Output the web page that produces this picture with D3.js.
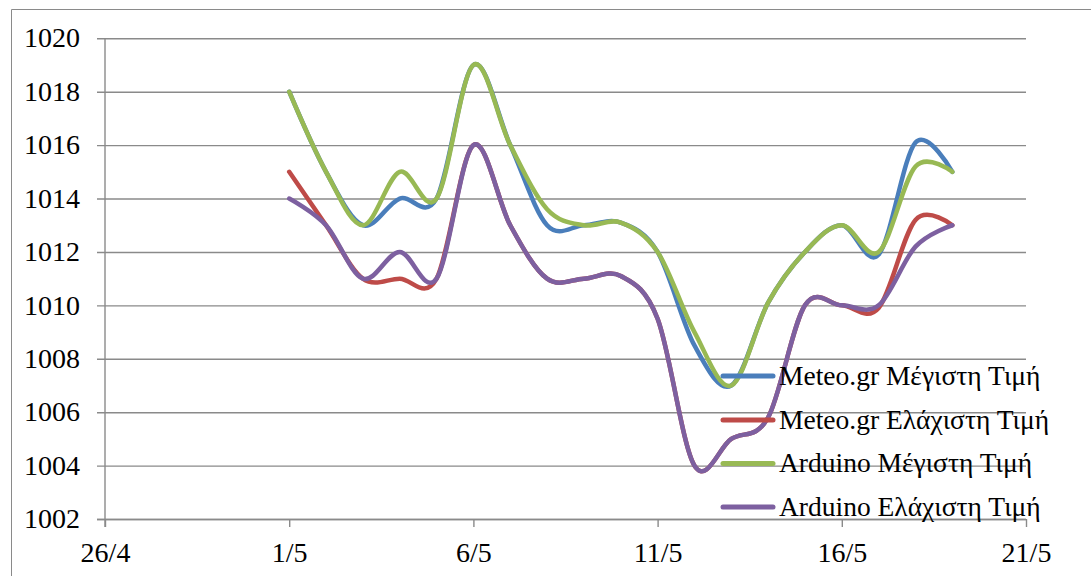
<!DOCTYPE html>
<html>
<head>
<meta charset="utf-8">
<script src="https://cdn.jsdelivr.net/npm/d3@7"></script>
<style>
  html, body { margin: 0; padding: 0; background: #fff; }
  svg { display: block; }
  text { font-family: "Liberation Serif", "DejaVu Serif", serif; fill: #000; }
</style>
</head>
<body>
<svg id="chart" width="1091" height="576"></svg>
<script>
// ---- data ----
const days = ["2014-05-01","2014-05-02","2014-05-03","2014-05-04","2014-05-05","2014-05-06","2014-05-07",
  "2014-05-08","2014-05-09","2014-05-10","2014-05-11","2014-05-12","2014-05-13","2014-05-14",
  "2014-05-15","2014-05-16","2014-05-17","2014-05-18","2014-05-19"];
const meteoMax   = [1018, 1015, 1013, 1014, 1014, 1019, 1016, 1013, 1013, 1013.1, 1012, 1008.5, 1007, 1010.1, 1012, 1013, 1011.9, 1016.1, 1015];
const meteoMin   = [1015, 1013, 1011, 1011, 1011, 1016, 1013, 1011, 1011, 1011.1, 1009.5, 1004, 1005, 1005.8, 1010, 1010, 1009.9, 1013.2, 1013];
const arduinoMax = [1018, 1015, 1013, 1015, 1014, 1019, 1016, 1013.6, 1013, 1013.1, 1012, 1009, 1007, 1010.1, 1012, 1013, 1012, 1015.2, 1015];
const arduinoMin = [1014, 1013, 1011, 1012, 1011, 1016, 1013, 1011, 1011, 1011.1, 1009.5, 1004, 1005, 1005.8, 1010, 1010, 1010, 1012.2, 1013];
const seriesNames = ["Meteo.gr Μέγιστη Τιμή", "Meteo.gr Ελάχιστη Τιμή", "Arduino Μέγιστη Τιμή", "Arduino Ελάχιστη Τιμή"];
const seriesColors = ["#4A7EBB", "#BE4B48", "#98B954", "#7D60A0"];
const xTickDates = ["2014-04-26","2014-05-01","2014-05-06","2014-05-11","2014-05-16","2014-05-21"];
const xTickLabels = ["26/4", "1/5", "6/5", "11/5", "16/5", "21/5"];
const yTicks = [1002, 1004, 1006, 1008, 1010, 1012, 1014, 1016, 1018, 1020];

// ---- layout ----
const svg = d3.select("#chart");
const pLeft = 105, pRight = 1026, pTop = 38.3, pBottom = 519;
const parse = d3.utcParse("%Y-%m-%d");
const x = d3.scaleUtc().domain([parse("2014-04-26"), parse("2014-05-21")]).range([pLeft, pRight]);
const y = d3.scaleLinear().domain([1002, 1020]).range([pBottom, pTop]);
const gridColor = "#8a8a8a";

// outer chart border (cropped)
svg.append("path").attr("d", `M11.5,576 L11.5,9.5 L1091,9.5`)
  .attr("fill", "none").attr("stroke", "#8a8a8a").attr("stroke-width", 1);

// y gridlines + ticks
const yAxis = d3.axisLeft(y).tickValues(yTicks).tickSize(-(pRight - pLeft)).tickSizeOuter(0).tickPadding(25)
  .tickFormat(d3.format("d"));
const gy = svg.append("g").attr("transform", `translate(${pLeft},0)`).call(yAxis);
gy.select(".domain").remove();
gy.selectAll(".tick line").attr("x1", -8).attr("stroke", gridColor).attr("stroke-width", 1.4);
gy.selectAll(".tick text").attr("font-size", 28).attr("dy", "0.31em")
  .attr("font-family", "Liberation Serif").attr("fill", "#000");

// y axis line
svg.append("line").attr("x1", pLeft).attr("x2", pLeft).attr("y1", pTop).attr("y2", pBottom + 8)
  .attr("stroke", gridColor).attr("stroke-width", 1.4);

// x axis
const xAxis = d3.axisBottom(x).tickValues(xTickDates.map(parse)).tickSize(8).tickSizeOuter(0).tickPadding(15)
  .tickFormat((d, i) => xTickLabels[i]);
const gx = svg.append("g").attr("transform", `translate(0,${pBottom})`).call(xAxis);
gx.select(".domain").attr("d", `M${pLeft - 8},0.5H${pRight}`).attr("stroke", gridColor).attr("stroke-width", 1.4);
gx.selectAll(".tick line").attr("stroke", gridColor).attr("stroke-width", 1.4);
gx.selectAll(".tick text").attr("font-size", 28).attr("font-family", "Liberation Serif").attr("fill", "#000");

// lines
const allSeries = [meteoMax, meteoMin, arduinoMax, arduinoMin];
const line = d3.line()
  .x((d, i) => x(parse(days[i])))
  .y(d => y(d))
  .curve(d3.curveCatmullRom.alpha(0));
allSeries.forEach((vals, k) => {
  svg.append("path").datum(vals).attr("d", line)
    .attr("fill", "none").attr("stroke", seriesColors[k]).attr("stroke-width", 4.5)
    .attr("stroke-linejoin", "round").attr("stroke-linecap", "round");
});

// legend
const legY = [376, 420, 463.5, 507];
const leg = svg.append("g");
seriesNames.forEach((name, k) => {
  leg.append("line").attr("x1", 723).attr("x2", 773).attr("y1", legY[k]).attr("y2", legY[k])
    .attr("stroke", seriesColors[k]).attr("stroke-width", 5).attr("stroke-linecap", "round");
  leg.append("text").attr("x", 779).attr("y", legY[k] + 8.5).attr("font-size", 27.5).text(name);
});
</script>
</body>
</html>
